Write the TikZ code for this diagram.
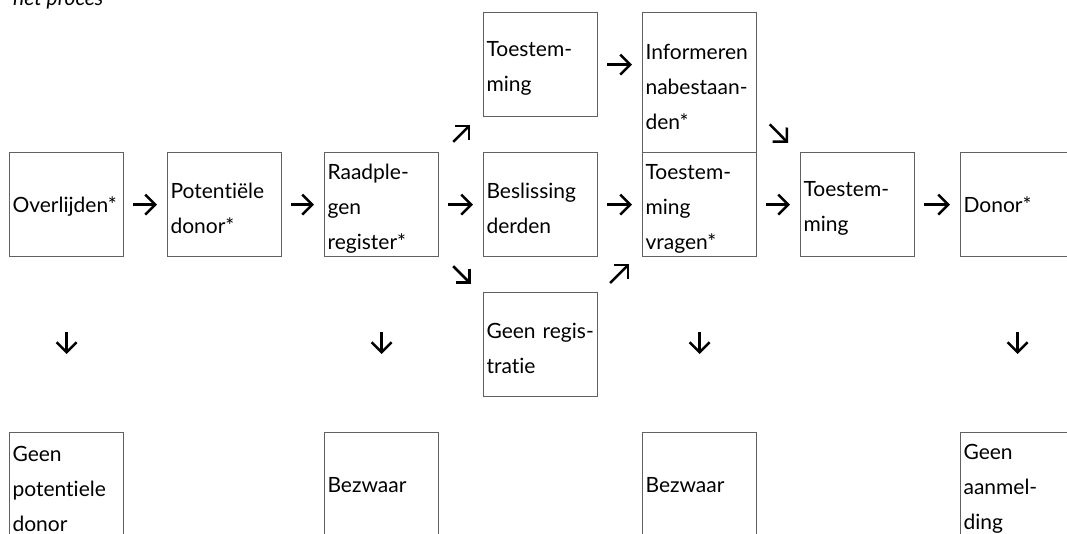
\documentclass[tikz,border=0pt]{standalone}
\usepackage{fontspec}
\setmainfont{Lato}[Ligatures=NoCommon]
\usetikzlibrary{arrows.meta}
\hyphenpenalty=10000
\exhyphenpenalty=10000
\tikzset{
  box/.style={draw=black!62, line width=1.1pt, minimum width=114pt, minimum height=104pt,
    text width=108pt, inner xsep=3pt, inner ysep=0pt, align=left, anchor=north west,
    font=\fontsize{21}{35}\selectfont,
    execute at end node={\par\vspace{-8pt}}},
  arr/.style={line width=2.5pt, -{Straight Barb[length=10pt,width=20pt]}},
}
\begin{document}
\begin{tikzpicture}[x=1pt,y=-1pt]
\useasboundingbox (0,0) rectangle (1067,534);
\clip (0,0) rectangle (1067,534);
\node[anchor=base west, inner sep=0pt, font=\fontsize{21}{24}\selectfont\itshape] (title) at (13,6) {het proces};
\node[box] (O) at (9,152) {Overlijden*};
\node[box] (P) at (167,152) {Potentiële\\donor*};
\node[box] (R) at (324,152) {Raadple-\\gen\\register*};
\node[box] (T1) at (483,12) {Toestem-\\ming};
\node[box] (B) at (483,152) {Beslissing\\derden};
\node[box] (G) at (483,292) {\mbox{Geen regis-}\\tratie};
\node[box, minimum height=140pt] (I) at (642,12) {Informeren\\nabestaan-\\den*};
\node[box] (TV) at (642,152) {Toestem-\\ming\\vragen*};
\node[box] (T2) at (800,152) {Toestem-\\ming};
\node[box] (D) at (960,152) {Donor*};
\node[box] (GPD) at (9,432) {Geen\\potentiele\\donor};
\node[box] (BZ1) at (324,432) {Bezwaar};
\node[box] (BZ2) at (642,432) {Bezwaar};
\node[box] (GNA) at (960,432) {Geen\\aanmel-\\ding};
% horizontal arrows
\draw[arr, shorten <=9pt, shorten >=10pt] (O) -- (P);
\draw[arr, shorten <=9pt, shorten >=10pt] (P) -- (R);
\draw[arr, shorten <=9pt, shorten >=10pt] (R) -- (B);
\draw[arr, shorten <=9pt, shorten >=10pt] (B) -- (TV);
\draw[arr, shorten <=9pt, shorten >=10pt] (TV) -- (T2);
\draw[arr, shorten <=9pt, shorten >=10pt] (T2) -- (D);
\draw[arr, shorten <=9pt, shorten >=10pt] (T1.east) -- (T1.east -| I.west);
% diagonal arrows
\draw[arr, shorten <=20pt, shorten >=18pt] ([yshift=-4pt]R.north east) -- ([yshift=5pt]T1.south west);
\draw[arr, shorten <=20pt, shorten >=17pt] ([yshift=5pt]R.south east) -- ([yshift=-4pt]G.north west);
\draw[arr, shorten <=17pt, shorten >=18pt] ([yshift=-3pt]G.north east) -- ([yshift=6pt]TV.south west);
\draw[arr, shorten <=18pt, shorten >=17pt] ([yshift=-29pt]I.east) -- ([yshift=-3pt]T2.north west);
% vertical arrows
\draw[arr, shorten <=75pt, shorten >=78pt] (O) -- (GPD);
\draw[arr, shorten <=75pt, shorten >=78pt] (R) -- (BZ1);
\draw[arr, shorten <=75pt, shorten >=78pt] (TV) -- (BZ2);
\draw[arr, shorten <=75pt, shorten >=78pt] (D) -- (GNA);
\end{tikzpicture}
\end{document}
